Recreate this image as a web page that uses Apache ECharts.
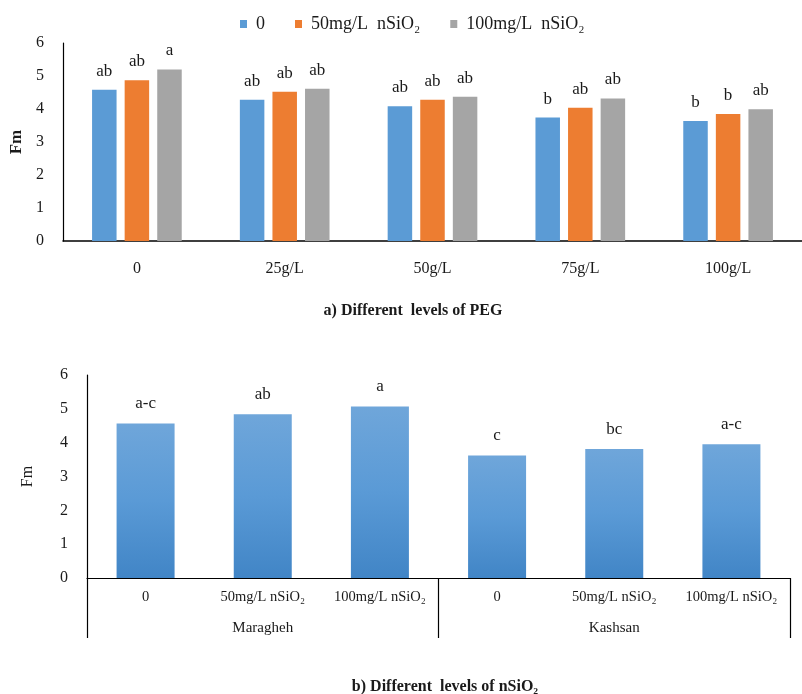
<!DOCTYPE html>
<html>
<head>
<meta charset="utf-8">
<script src="https://cdn.jsdelivr.net/npm/echarts@6/dist/echarts.min.js"></script>
<style>
html,body{margin:0;padding:0;background:#fff;}
#chart{width:802px;height:694px;}
</style>
</head>
<body>
<div id="chart"></div>
<script>
// ---- Data: panel a ----
const pegLevels = ['0', '25g/L', '50g/L', '75g/L', '100g/L'];
const seriesNamesA = ['0', '50mg/L  nSiO\u2082', '100mg/L  nSiO\u2082'];
const fm0 = [4.58, 4.28, 4.08, 3.74, 3.64];
const fm50 = [4.87, 4.52, 4.28, 4.04, 3.85];
const fm100 = [5.20, 4.61, 4.37, 4.32, 3.99];
const let0 = ['ab', 'ab', 'ab', 'b', 'b'];
const let50 = ['ab', 'ab', 'ab', 'ab', 'b'];
const let100 = ['a', 'ab', 'ab', 'ab', 'ab'];

// ---- Data: panel b ----
const siTreat = ['0', '50mg/L nSiO\u2082', '100mg/L nSiO\u2082', '0', '50mg/L nSiO\u2082', '100mg/L nSiO\u2082'];
const sites = ['Maragheh', 'Kashsan'];
const fmB = [4.57, 4.84, 5.07, 3.62, 3.81, 3.95];
const letB = ['a-c', 'ab', 'a', 'c', 'bc', 'a-c'];

const yTicks = [0, 6, 1]; // min, max, interval

const FONT = '"Liberation Serif", "Times New Roman", serif';
const TXT = '#1a1a1a';
const colors = ['#5b9bd5', '#ed7d31', '#a5a5a5'];

function barSeriesA(name, values, letters, color) {
  return {
    name: name,
    type: 'bar',
    xAxisIndex: 0,
    yAxisIndex: 0,
    data: values,
    barWidth: 24.5,
    barGap: '33%',
    itemStyle: { color: color },
    label: {
      show: true,
      position: 'top',
      distance: 10,
      fontFamily: FONT,
      fontSize: 17,
      color: TXT,
      formatter: p => letters[p.dataIndex]
    }
  };
}

const chart = echarts.init(document.getElementById('chart'), null, { renderer: 'canvas' });

const option = {
  animation: false,
  backgroundColor: '#fff',
  textStyle: { fontFamily: FONT },
  title: [
    {
      text: 'a) Different  levels of PEG',
      left: 408, top: 298, textAlign: 'center',
      textStyle: { fontFamily: FONT, fontSize: 16, fontWeight: 'bold', color: TXT }
    },
    {
      text: 'b) Different  levels of nSiO\u2082',
      left: 440, top: 674, textAlign: 'center',
      textStyle: { fontFamily: FONT, fontSize: 16, fontWeight: 'bold', color: TXT }
    }
  ],
  legend: {
    data: seriesNamesA,
    top: 10,
    left: 235,
    itemWidth: 7,
    itemHeight: 8,
    itemGap: 30,
    icon: 'rect',
    textStyle: { fontFamily: FONT, fontSize: 18, color: TXT, padding: [0, 0, 0, 4] }
  },
  grid: [
    { left: 63, top: 43, right: 0, height: 198, containLabel: false },
    { left: 87, top: 375, width: 703, height: 203, containLabel: false }
  ],
  xAxis: [
    {
      gridIndex: 0,
      type: 'category',
      data: pegLevels,
      axisLine: { show: true, lineStyle: { color: '#000', width: 1.5 } },
      axisTick: { show: false },
      axisLabel: { fontFamily: FONT, fontSize: 16, color: TXT, margin: 20 },
      splitLine: { show: false }
    },
    {
      gridIndex: 1,
      type: 'category',
      data: siTreat,
      axisLine: { show: true, lineStyle: { color: '#000', width: 1.2 } },
      axisTick: { show: false },
      axisLabel: { fontFamily: FONT, fontSize: 14.5, color: TXT, margin: 12, interval: 0 },
      splitLine: { show: false }
    },
    {
      gridIndex: 1,
      type: 'category',
      data: sites,
      position: 'bottom',
      axisLine: { show: false },
      axisTick: { show: true, length: 60, lineStyle: { color: '#000', width: 1.2 } },
      axisLabel: { fontFamily: FONT, fontSize: 15, color: TXT, margin: 43 },
      splitLine: { show: false }
    }
  ],
  yAxis: [
    {
      gridIndex: 0,
      type: 'value',
      min: yTicks[0], max: yTicks[1], interval: yTicks[2],
      name: 'Fm',
      nameLocation: 'middle',
      nameGap: 38,
      nameTextStyle: { fontFamily: FONT, fontSize: 17, fontWeight: 'bold', color: TXT },
      axisLine: { show: true, lineStyle: { color: '#000', width: 1.2 } },
      axisTick: { show: false },
      axisLabel: { fontFamily: FONT, fontSize: 16, color: TXT, margin: 19 },
      splitLine: { show: false }
    },
    {
      gridIndex: 1,
      type: 'value',
      min: yTicks[0], max: yTicks[1], interval: yTicks[2],
      name: 'Fm',
      nameLocation: 'middle',
      nameGap: 51,
      nameTextStyle: { fontFamily: FONT, fontSize: 16, color: TXT },
      axisLine: { show: true, lineStyle: { color: '#000', width: 1.2 } },
      axisTick: { show: false },
      axisLabel: { fontFamily: FONT, fontSize: 16, color: TXT, margin: 19 },
      splitLine: { show: false }
    }
  ],
  series: [
    barSeriesA(seriesNamesA[0], fm0, let0, colors[0]),
    barSeriesA(seriesNamesA[1], fm50, let50, colors[1]),
    barSeriesA(seriesNamesA[2], fm100, let100, colors[2]),
    {
      name: 'Fm (nSiO2)',
      type: 'bar',
      xAxisIndex: 1,
      yAxisIndex: 1,
      data: fmB,
      barWidth: 58,
      itemStyle: {
        color: new echarts.graphic.LinearGradient(0, 0, 0, 1, [
          { offset: 0, color: '#6fa6da' },
          { offset: 0.5, color: '#5a9ad6' },
          { offset: 1, color: '#4185c6' }
        ])
      },
      label: {
        show: true,
        position: 'top',
        distance: 11,
        fontFamily: FONT,
        fontSize: 17,
        color: TXT,
        formatter: p => letB[p.dataIndex]
      }
    }
  ]
};

chart.setOption(option);
</script>
</body>
</html>
